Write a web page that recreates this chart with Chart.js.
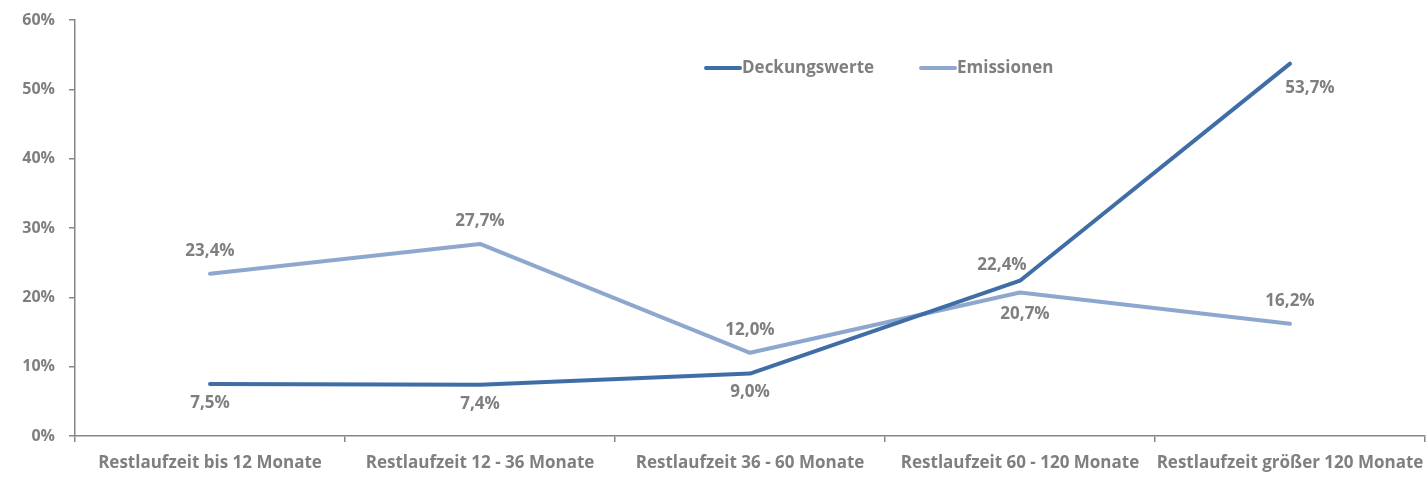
<!DOCTYPE html>
<html><head><meta charset="utf-8">
<script src="https://cdn.jsdelivr.net/npm/chart.js@4"></script>
<style>html,body{margin:0;padding:0;background:#fff}#w{width:1427px;height:478px}</style>
</head><body><div id="w"><canvas id="c"></canvas></div>
<script>
const categories = ["Restlaufzeit bis 12 Monate","Restlaufzeit 12 - 36 Monate","Restlaufzeit 36 - 60 Monate","Restlaufzeit 60 - 120 Monate","Restlaufzeit größer 120 Monate"];
const deckungswerte = [7.5, 7.4, 9.0, 22.4, 53.7];
const emissionen = [23.4, 27.7, 12.0, 20.7, 16.2];
const seriesNames = ["Deckungswerte","Emissionen"];
const deckPos = ["below","below","below","aboveleft","belowright"];
const emisPos = ["above","above","above","belowright","above"];

const FONT = "'Open Sans', sans-serif";
const GREY = "#7f7f7f";
const AXIS = "#868686";
const C1 = "#3f6ea7", C2 = "#8ea7cf";

const labelPlugin = {
  id: 'lbls',
  afterDatasetsDraw(chart) {
    const ctx = chart.ctx;
    ctx.save();
    ctx.font = "bold 17px " + FONT;
    ctx.fillStyle = GREY;
    ctx.textAlign = "center";
    ctx.textBaseline = "middle";
    const posArr = [deckPos, emisPos];
    chart.data.datasets.forEach((ds, i) => {
      const meta = chart.getDatasetMeta(i);
      meta.data.forEach((pt, j) => {
        const v = ds.data[j];
        const txt = v.toFixed(1).replace('.', ',') + '%';
        const p = posArr[i][j];
        let x = pt.x, y = pt.y;
        if (p === "above") y -= 23;
        else if (p === "below") y += 19;
        else if (p === "aboveleft") { x -= 18; y -= 16; }
        else if (p === "belowright") { x += 5; y += 22; }
        if (i === 0 && j === 4) { x += 15; y += 2; }
        ctx.fillText(txt, x, y);
      });
    });
    // legend
    const ca = chart.chartArea;
    const lx = [ca.left + 631, ca.left + 846];
    const ly = ca.top + 48;
    ctx.textAlign = "left";
    chart.data.datasets.forEach((ds, i) => {
      ctx.strokeStyle = ds.borderColor;
      ctx.lineWidth = 4;
      ctx.lineCap = "round";
      ctx.beginPath();
      ctx.moveTo(lx[i], ly);
      ctx.lineTo(lx[i] + 34, ly);
      ctx.stroke();
      ctx.fillText(ds.label, lx[i] + 36, ly);
    });
    ctx.restore();
  }
};

new Chart(document.getElementById('c'), {
  type: 'line',
  data: {
    labels: categories,
    datasets: [
      { label: seriesNames[0], data: deckungswerte, borderColor: C1, backgroundColor: C1, borderWidth: 4, pointRadius: 0, tension: 0, borderCapStyle: 'round', borderJoinStyle: 'round' },
      { label: seriesNames[1], data: emissionen, borderColor: C2, backgroundColor: C2, borderWidth: 4, pointRadius: 0, tension: 0, borderCapStyle: 'round', borderJoinStyle: 'round' }
    ]
  },
  options: {
    responsive: true, maintainAspectRatio: false, animation: false,
    layout: { padding: { top: 20, right: 2, left: 0, bottom: 0 } },
    plugins: { legend: { display: false }, tooltip: { enabled: false } },
    scales: {
      x: {
        offset: true,
        grid: { offset: true, drawOnChartArea: false, tickLength: 6, color: AXIS, lineWidth: 1.5 },
        border: { color: AXIS, width: 1.5 },
        ticks: { color: GREY, font: { family: FONT, size: 17, weight: 'bold' }, padding: 11, maxRotation: 0, autoSkip: false },
        afterFit(s) { s.height = 42; s.paddingLeft = 0; s.paddingRight = 0; }
      },
      y: {
        min: 0, max: 60,
        grid: { drawOnChartArea: false, tickLength: 6, color: AXIS, lineWidth: 1.5 },
        border: { color: AXIS, width: 1.5 },
        ticks: { stepSize: 10, color: GREY, font: { family: FONT, size: 16, weight: 'bold' }, padding: 14, callback: v => v + '%' },
        afterFit(s) { s.width = 75; s.paddingTop = 0; s.paddingBottom = 0; }
      }
    }
  },
  plugins: [labelPlugin]
});
</script></body></html>
